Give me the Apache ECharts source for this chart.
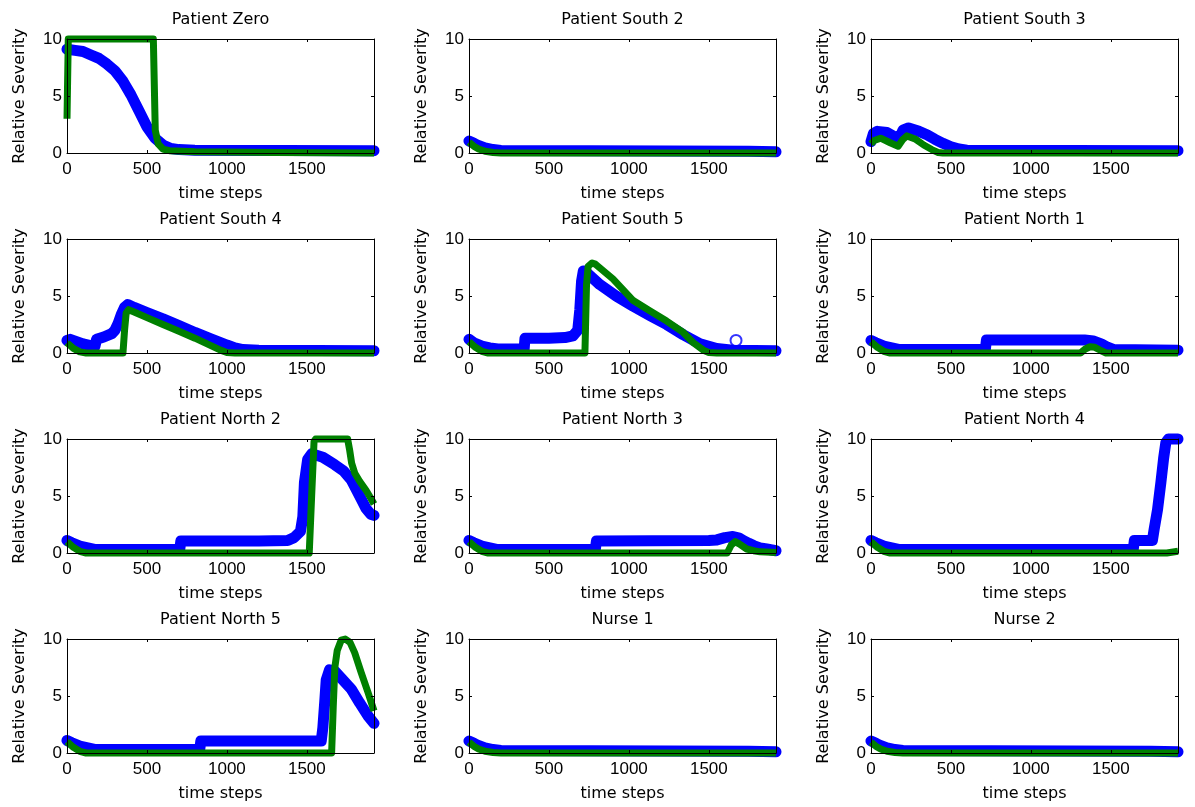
<!DOCTYPE html>
<html>
<head>
<meta charset="utf-8">
<title>Relative Severity</title>
<script src="https://cdn.jsdelivr.net/npm/echarts@6.0.0/dist/echarts.min.js"></script>
<style>
  html, body { margin: 0; padding: 0; background: #fff; }
  #main { width: 1195px; height: 807px; }
</style>
</head>
<body>
<div id="main"></div>
<script>
// subplot titles, row by row
const titles = [
  'Patient Zero', 'Patient South 2', 'Patient South 3',
  'Patient South 4', 'Patient South 5', 'Patient North 1',
  'Patient North 2', 'Patient North 3', 'Patient North 4',
  'Patient North 5', 'Nurse 1', 'Nurse 2'
];
const xTicks = [0, 500, 1000, 1500];
const yTicks = [0, 5, 10];
const xMax = 1920;
const yMax = 10;

// blue trace (dense circle markers) and green trace, [time step, severity]
const zeroBlue = [[0,9.1],[50,9.0],[100,8.9],[150,8.6],[200,8.3],[250,7.8],[300,7.2],[350,6.3],[400,5.1],[450,3.7],[500,2.3],[550,1.3],[600,0.7],[650,0.4],[700,0.3],[800,0.25],[1920,0.2]];
const zeroGreen = [[0,3],[8,10],[540,10],[552,2],[570,0.8],[600,0.35],[640,0.2],[800,0.1],[1300,0.05],[1920,0]];

const south2Blue = [[0,1.05],[25,0.9],[50,0.7],[100,0.45],[150,0.3],[200,0.22],[750,0.2],[1750,0.15],[1920,0.1]];
const south2Green = [[0,0.95],[30,0.6],[60,0.35],[100,0.15],[150,0.05],[200,0],[1920,0]];

const south3Blue = [[0,1.0],[15,1.7],[40,1.9],[100,1.8],[150,1.4],[175,1.2],[200,2.0],[235,2.2],[300,1.9],[350,1.6],[400,1.2],[450,0.85],[500,0.55],[550,0.35],[600,0.25],[1920,0.2]];
const south3Green = [[0,0.8],[20,1.1],[60,1.3],[120,0.9],[170,0.6],[200,1.2],[225,1.5],[280,1.2],[330,0.7],[380,0.3],[420,0.05],[450,0],[1920,0]];

const south4Blue = [[0,1.1],[20,1.2],[60,1.0],[100,0.8],[160,0.6],[175,0.6],[185,1.2],[230,1.4],[280,1.7],[300,2.0],[320,2.6],[340,3.4],[360,4.0],[380,4.25],[420,4.0],[500,3.55],[600,3.0],[700,2.4],[800,1.8],[900,1.25],[1000,0.7],[1050,0.45],[1100,0.3],[1200,0.25],[1920,0.2]];
const south4Green = [[0,0.9],[40,0.4],[80,0.1],[120,0],[350,0],[360,2.0],[370,3.5],[385,3.8],[420,3.6],[500,3.1],[600,2.5],[700,1.9],[800,1.3],[900,0.65],[960,0.25],[1000,0.05],[1050,0],[1920,0]];

const south5Blue = [[0,1.2],[30,0.9],[80,0.6],[130,0.45],[180,0.35],[345,0.35],[350,1.3],[500,1.3],[600,1.35],[650,1.5],[680,2.0],[693,3.8],[704,6.3],[715,7.2],[740,7.0],[818,6.0],[920,5.0],[1027,4.1],[1130,3.3],[1236,2.5],[1340,1.6],[1445,0.8],[1549,0.4],[1650,0.25],[1920,0.2]];
const south5Green = [[0,1.0],[40,0.5],[80,0.15],[120,0],[725,0],[735,6],[745,7.6],[770,7.9],[790,7.8],[900,6.5],[1027,4.6],[1130,3.7],[1236,2.8],[1340,1.8],[1403,0.9],[1466,0.25],[1500,0.05],[1550,0],[1920,0]];
const south5Outlier = [[1670,1.1]];

const north1Blue = [[0,1.1],[30,0.9],[80,0.6],[130,0.45],[180,0.3],[715,0.3],[722,1.15],[1335,1.15],[1390,1.05],[1440,0.8],[1480,0.5],[1520,0.3],[1920,0.25]];
const north1Green = [[0,1.0],[40,0.5],[80,0.15],[120,0],[1310,0],[1340,0.35],[1370,0.55],[1400,0.5],[1440,0.2],[1470,0],[1920,0]];

const north2Blue = [[0,1.1],[30,0.9],[80,0.6],[130,0.45],[180,0.3],[705,0.3],[712,1.05],[1200,1.05],[1380,1.1],[1420,1.35],[1460,1.9],[1475,3.2],[1485,6.2],[1505,8.2],[1530,8.7],[1600,8.4],[1674,7.75],[1730,7.2],[1778,6.4],[1830,5.0],[1870,3.9],[1900,3.4],[1920,3.3]];
const north2Green = [[0,1.0],[40,0.5],[80,0.15],[120,0],[1515,0],[1530,5],[1545,9.8],[1555,10],[1755,10],[1768,9.0],[1780,7.9],[1800,7.0],[1830,6.3],[1870,5.5],[1900,4.8],[1920,4.3]];

const north3Blue = [[0,1.1],[30,0.9],[80,0.6],[130,0.45],[180,0.3],[790,0.3],[797,1.05],[1500,1.1],[1550,1.15],[1600,1.35],[1650,1.45],[1690,1.3],[1716,1.1],[1750,0.85],[1780,0.65],[1820,0.45],[1862,0.35],[1920,0.2]];
const north3Green = [[0,1.0],[40,0.5],[80,0.15],[120,0],[1615,0],[1640,0.7],[1665,1.0],[1690,0.8],[1737,0.35],[1780,0.2],[1820,0.1],[1920,0.05]];

const north4Blue = [[0,1.1],[30,0.9],[80,0.6],[130,0.45],[180,0.3],[1640,0.3],[1647,1.1],[1760,1.1],[1771,2.1],[1792,3.8],[1813,6.2],[1830,8.3],[1844,9.7],[1860,10],[1920,10]];
const north4Green = [[0,1.0],[40,0.5],[80,0.15],[120,0],[1850,0],[1920,0.15]];

const north5Blue = [[0,1.1],[30,0.9],[80,0.6],[130,0.45],[180,0.3],[830,0.3],[837,1.05],[1590,1.05],[1600,2.2],[1612,4.5],[1621,6.4],[1642,7.3],[1674,7.2],[1720,6.5],[1778,5.6],[1830,4.4],[1883,3.25],[1920,2.6]];
const north5Green = [[0,1.0],[40,0.5],[80,0.15],[120,0],[1655,0],[1665,4],[1675,7.5],[1690,9.0],[1715,9.9],[1740,10],[1770,9.7],[1799,8.8],[1841,7.0],[1883,5.3],[1920,3.7]];

const nurse1Blue = [[0,1.05],[25,0.9],[50,0.7],[100,0.45],[150,0.3],[200,0.22],[750,0.2],[1750,0.15],[1920,0.1]];
const nurse1Green = [[0,0.95],[30,0.6],[60,0.35],[100,0.15],[150,0.05],[200,0],[1920,0]];

const nurse2Blue = [[0,1.05],[25,0.9],[50,0.7],[100,0.45],[150,0.3],[200,0.22],[750,0.2],[1750,0.15],[1920,0.1]];
const nurse2Green = [[0,0.95],[30,0.6],[60,0.35],[100,0.15],[150,0.05],[200,0],[1920,0]];

const blues = [zeroBlue, south2Blue, south3Blue, south4Blue, south5Blue, north1Blue,
  north2Blue, north3Blue, north4Blue, north5Blue, nurse1Blue, nurse2Blue];
const greens = [zeroGreen, south2Green, south3Green, south4Green, south5Green, north1Green,
  north2Green, north3Green, north4Green, north5Green, nurse1Green, nurse2Green];

// layout of the 4x3 subplot grid
const colLeft = [67, 469, 871];
const rowTop = [39, 239, 439, 639];
const plotW = 307, plotH = 114;
const textFont = 'DejaVu Sans';
const tickFont = 'Liberation Sans';
const BLUE = '#0000ff', GREEN = '#008000';

const chart = echarts.init(document.getElementById('main'));

const grid = [], xAxis = [], yAxis = [], title = [], series = [];
titles.forEach((t, i) => {
  const r = Math.floor(i / 3), c = i % 3;
  grid.push({left: colLeft[c], top: rowTop[r], width: plotW, height: plotH, containLabel: false});
  title.push({
    text: t, left: colLeft[c] + plotW / 2, top: rowTop[r] - 27, textAlign: 'center', padding: 0,
    textStyle: {fontFamily: textFont, fontSize: 16, fontWeight: 'normal', color: '#000'}
  });
  const line = {show: true, onZero: false, lineStyle: {color: '#000', width: 1}};
  const tick = {show: true, inside: true, length: 3, lineStyle: {color: '#000', width: 1}};
  // bottom + top x axes (box)
  xAxis.push({
    type: 'value', gridIndex: i, min: 0, max: xMax, interval: 500, position: 'bottom', z: 5,
    axisLine: line, axisTick: tick, splitLine: {show: false},
    axisLabel: {margin: 8, fontFamily: tickFont, fontSize: 17, color: '#000', showMaxLabel: false,
      formatter: v => xTicks.includes(v) ? String(v) : ''},
    name: 'time steps', nameLocation: 'middle', nameGap: 33,
    nameTextStyle: {fontFamily: textFont, fontSize: 16, color: '#000'}
  });
  xAxis.push({
    type: 'value', gridIndex: i, min: 0, max: xMax, interval: 500, position: 'top', z: 5,
    axisLine: line, axisTick: tick, splitLine: {show: false}, axisLabel: {show: false}
  });
  // left + right y axes
  yAxis.push({
    type: 'value', gridIndex: i, min: 0, max: yMax, interval: 5, position: 'left', z: 5,
    axisLine: line, axisTick: tick, splitLine: {show: false},
    axisLabel: {margin: 5, fontFamily: tickFont, fontSize: 17, color: '#000',
      formatter: v => yTicks.includes(v) ? String(v) : ''},
    name: 'Relative Severity', nameLocation: 'middle', nameGap: 39, nameRotate: 90,
    nameTextStyle: {fontFamily: textFont, fontSize: 16, color: '#000'}
  });
  yAxis.push({
    type: 'value', gridIndex: i, min: 0, max: yMax, interval: 5, position: 'right', z: 5,
    axisLine: line, axisTick: tick, splitLine: {show: false}, axisLabel: {show: false}
  });
  series.push({
    type: 'line', xAxisIndex: 2 * i, yAxisIndex: 2 * i, data: blues[i],
    showSymbol: false, clip: false, silent: true,
    lineStyle: {color: BLUE, width: 11, cap: 'round', join: 'round'}
  });
  series.push({
    type: 'line', xAxisIndex: 2 * i, yAxisIndex: 2 * i, data: greens[i],
    showSymbol: false, clip: false, silent: true,
    lineStyle: {color: GREEN, width: 7, cap: 'butt', join: 'round'}
  });
});

// single stray marker in Patient South 5
series.push({
  type: 'scatter', xAxisIndex: 8, yAxisIndex: 8, data: south5Outlier, clip: false,
  symbol: 'circle', symbolSize: 11,
  itemStyle: {color: 'rgba(0,0,0,0)', borderColor: BLUE, borderWidth: 2}
});

const option = {
  animation: false,
  backgroundColor: '#fff',
  title: title,
  grid: grid,
  xAxis: xAxis,
  yAxis: yAxis,
  series: series
};
chart.setOption(option);
</script>
</body>
</html>
